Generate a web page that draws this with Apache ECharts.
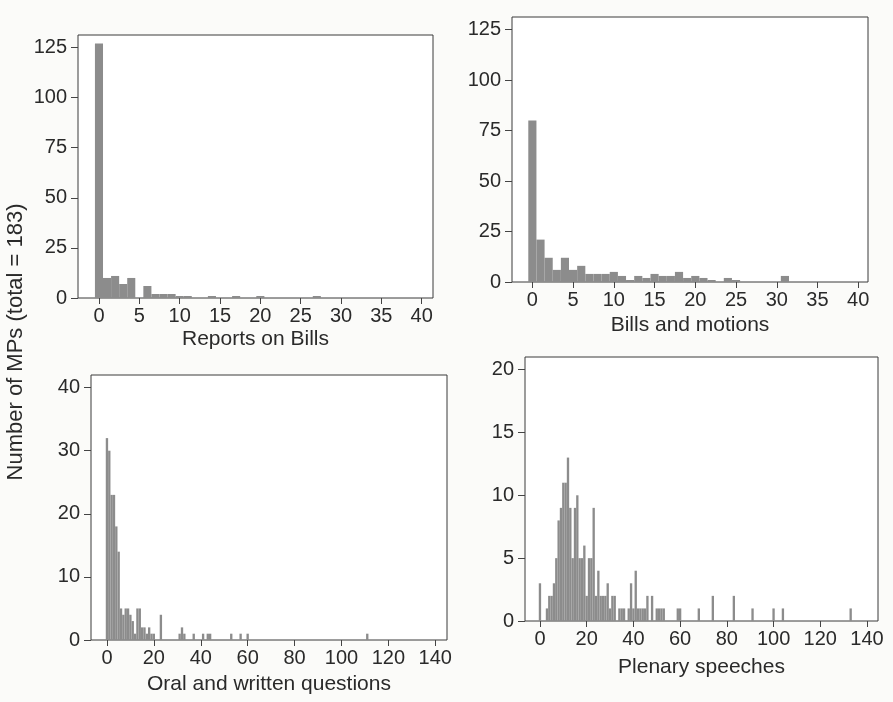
<!DOCTYPE html>
<html>
<head>
<meta charset="utf-8">
<title>Number of MPs by activity</title>
<script src="https://cdn.jsdelivr.net/npm/echarts@6/dist/echarts.min.js"></script>
<style>
  html, body { margin: 0; padding: 0; background: #fbfbf9; }
  #chart { width: 893px; height: 702px; }
</style>
</head>
<body>
<div id="chart"></div>
<script>
// number of MPs (count) for each activity value
const reportsValues = [0, 1, 2, 3, 4, 6, 7, 8, 9, 10, 11, 14, 17, 20, 27]
const reportsCounts = [127, 10, 11, 7, 10, 6, 2, 2, 2, 1, 1, 1, 1, 1, 1]

const billsValues = [0, 1, 2, 3, 4, 5, 6, 7, 8, 9, 10, 11, 12, 13, 14, 15, 16, 17, 18, 19, 20, 21, 22, 24, 25, 31]
const billsCounts = [80, 21, 12, 6, 12, 6, 8, 4, 4, 4, 5, 3, 1, 3, 2, 4, 3, 3, 5, 2, 3, 2, 1, 2, 1, 3]

const questionsValues = [0, 1, 2, 3, 4, 5, 6, 7, 8, 9, 10, 11, 12, 13, 14, 15, 16, 17, 18, 19, 20, 23, 31, 32, 33, 37, 41, 43, 44, 53, 57, 60, 111]
const questionsCounts = [32, 30, 23, 23, 18, 14, 5, 4, 5, 5, 4, 3, 1, 5, 5, 2, 2, 1, 2, 1, 1, 4, 1, 2, 1, 1, 1, 1, 1, 1, 1, 1, 1]

const speechesValues = [0, 3, 4, 5, 6, 7, 8, 9, 10, 11, 12, 13, 14, 15, 16, 17, 18, 19, 20, 21, 22, 23, 24, 25, 26, 27, 28, 29, 30, 31, 32, 34, 35, 36, 38, 39, 40, 41, 42, 43, 44, 45, 46, 48, 50, 51, 52, 53, 59, 60, 68, 74, 83, 91, 100, 104, 133]
const speechesCounts = [3, 1, 2, 2, 3, 5, 8, 9, 11, 11, 13, 9, 5, 9, 10, 5, 5, 6, 2, 5, 5, 9, 2, 4, 2, 2, 2, 3, 1, 2, 2, 1, 1, 1, 1, 3, 1, 4, 1, 1, 1, 1, 2, 2, 1, 1, 1, 1, 1, 1, 1, 2, 2, 1, 1, 1, 1]

// tick labels
const smallXTicks = [0, 5, 10, 15, 20, 25, 30, 35, 40]
const wideXTicks = [0, 20, 40, 60, 80, 100, 120, 140]
const reportsYTicks = [0, 25, 50, 75, 100, 125]
const questionsYTicks = [0, 10, 20, 30, 40]
const speechesYTicks = [0, 5, 10, 15, 20]

const fontFamily = '"Liberation Sans", Arial, Helvetica, sans-serif'
const textColor = '#2a2a2a'
const barColor = '#8c8c8c'

const panels = [
  { name: 'Reports on Bills', values: reportsValues, counts: reportsCounts,
    xTicks: smallXTicks, yTicks: reportsYTicks, xMin: -2.6, xMax: 41.4, yMax: 131.25,
    box: { left: 78, top: 35, width: 355, height: 263 }, nameGap: 31 },
  { name: 'Bills and motions', values: billsValues, counts: billsCounts,
    xTicks: smallXTicks, yTicks: reportsYTicks, xMin: -2.5, xMax: 41.2, yMax: 131.25,
    box: { left: 512, top: 17, width: 356, height: 265 }, nameGap: 33 },
  { name: 'Oral and written questions', values: questionsValues, counts: questionsCounts,
    xTicks: wideXTicks, yTicks: questionsYTicks, xMin: -6.8, xMax: 145, yMax: 42,
    box: { left: 91, top: 375, width: 356, height: 265 }, nameGap: 34 },
  { name: 'Plenary speeches', values: speechesValues, counts: speechesCounts,
    xTicks: wideXTicks, yTicks: speechesYTicks, xMin: -6.4, xMax: 144.7, yMax: 21,
    box: { left: 525, top: 357, width: 353, height: 264 }, nameGap: 36 }
]

// one unit wide bar centred on each value
function renderBar(params, api) {
  const x = api.value(0)
  const n = api.value(1)
  const topLeft = api.coord([x - 0.5, n])
  const bottomRight = api.coord([x + 0.5, 0])
  return {
    type: 'rect',
    shape: {
      x: topLeft[0],
      y: topLeft[1],
      width: bottomRight[0] - topLeft[0],
      height: bottomRight[1] - topLeft[1]
    },
    style: { fill: barColor }
  }
}

const chart = echarts.init(document.getElementById('chart'))

chart.setOption({
  backgroundColor: '#fbfbf9',
  animation: false,
  grid: panels.map(p => ({
    ...p.box,
    show: true,
    backgroundColor: '#ffffff',
    borderColor: '#3a3a3a',
    borderWidth: 1
  })),
  xAxis: panels.map((p, i) => ({
    gridIndex: i,
    type: 'value',
    position: 'bottom',
    min: p.xMin,
    max: p.xMax,
    name: p.name,
    nameLocation: 'middle',
    nameGap: p.nameGap,
    nameTextStyle: { fontSize: 21, color: textColor, fontFamily },
    axisLine: { show: false, onZero: false },
    axisTick: { show: true, inside: false, length: 6, customValues: p.xTicks, lineStyle: { color: '#444' } },
    axisLabel: { customValues: p.xTicks, fontSize: 20, margin: 8, color: textColor, fontFamily },
    splitLine: { show: false }
  })),
  yAxis: panels.map((p, i) => ({
    gridIndex: i,
    type: 'value',
    position: 'left',
    min: 0,
    max: p.yMax,
    axisLine: { show: false, onZero: false },
    axisTick: { show: true, inside: false, length: 7, customValues: p.yTicks, lineStyle: { color: '#444' } },
    axisLabel: { customValues: p.yTicks, fontSize: 20, margin: 11, color: textColor, fontFamily },
    splitLine: { show: false }
  })),
  series: panels.map((p, i) => ({
    type: 'custom',
    xAxisIndex: i,
    yAxisIndex: i,
    clip: true,
    renderItem: renderBar,
    data: p.values.map((v, k) => [v, p.counts[k]])
  })),
  graphic: [{
    type: 'text',
    x: 16,
    y: 342,
    rotation: Math.PI / 2,
    style: {
      text: 'Number of MPs (total = 183)',
      fontSize: 22,
      fontFamily,
      fill: textColor,
      textAlign: 'center',
      textVerticalAlign: 'middle'
    }
  }]
})
</script>
</body>
</html>
